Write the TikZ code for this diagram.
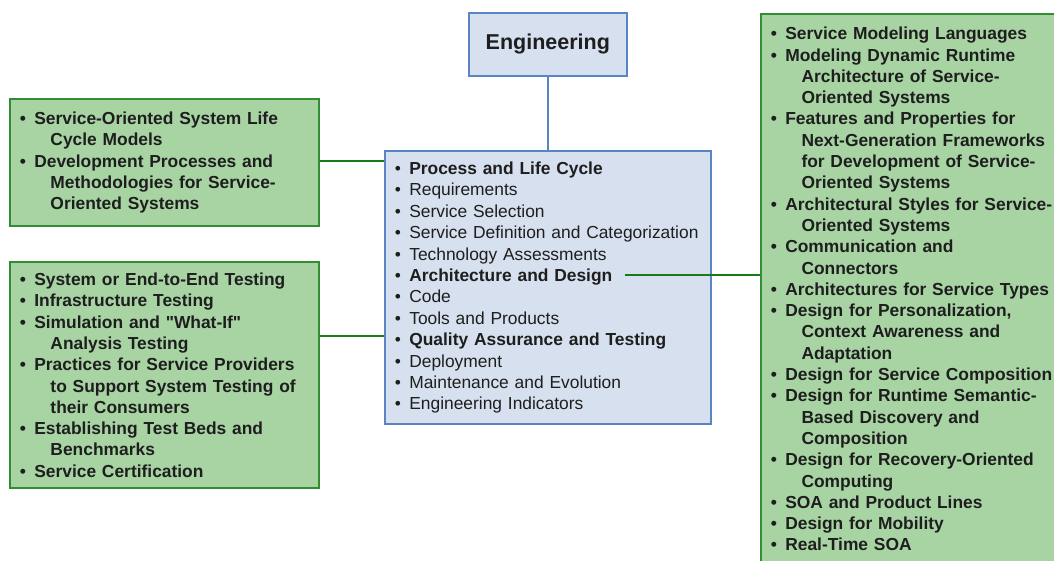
\documentclass[tikz,border=0pt]{standalone}
\usepackage{fontspec}
\setmainfont{Liberation Sans}[Ligatures=TeXOff]
\usetikzlibrary{positioning}
\definecolor{topicfill}{RGB}{214,224,238}
\definecolor{topicline}{RGB}{91,132,196}
\definecolor{areafill}{RGB}{168,212,164}
\definecolor{arealine}{RGB}{50,140,50}
\definecolor{linkgreen}{RGB}{24,122,24}
\definecolor{inktext}{RGB}{30,30,30}
\newcommand{\bul}{\par\noindent\makebox[14.5pt][l]{\textbullet}}
\newcommand{\wrapl}{\par\noindent\hspace*{30.7pt}}
\newcommand{\listpad}{\par\vspace{8pt}}
\begin{document}
\begin{tikzpicture}[x=1pt,y=-1pt,
    topic/.style={draw=topicline,fill=topicfill,line width=1.6pt,text=inktext},
    area/.style={draw=arealine,fill=areafill,line width=1.6pt,text=inktext,align=left,
        inner xsep=10pt,inner ysep=0pt,font=\bfseries\fontsize{17.4}{21.3}\selectfont},
    link/.style={linkgreen,line width=1.6pt}]
    \useasboundingbox (0,0) rectangle (1054,561);

    \node[topic,anchor=north west,minimum width=158,minimum height=63,
        font=\bfseries\fontsize{21.5}{24}\selectfont] (eng) at (468,12) {Engineering};

    \node[topic,anchor=north west,align=left,text width=306,inner xsep=10pt,inner ysep=0pt,
        minimum height=273,font=\fontsize{17.4}{21.4}\selectfont] (main) at (384,150) {%
        \bul\textbf{Process and Life Cycle}
        \bul Requirements
        \bul Service Selection
        \bul Service Definition and Categorization
        \bul Technology Assessments
        \bul\textbf{Architecture and Design}
        \bul Code
        \bul Tools and Products
        \bul\textbf{Quality Assurance and Testing}
        \bul Deployment
        \bul Maintenance and Evolution
        \bul Engineering Indicators\listpad};

    \node[area,anchor=north west,text width=289,minimum height=127] (life) at (9,98) {%
        \bul Service-Oriented System Life
        \wrapl Cycle Models
        \bul Development Processes and
        \wrapl Methodologies for Service-
        \wrapl Oriented Systems\listpad};

    \node[area,anchor=north west,text width=289,minimum height=226] (test) at (9,261) {%
        \bul System or End-to-End Testing
        \bul Infrastructure Testing
        \bul Simulation and "What-If"
        \wrapl Analysis Testing
        \bul Practices for Service Providers
        \wrapl to Support System Testing of
        \wrapl their Consumers
        \bul Establishing Test Beds and
        \wrapl Benchmarks
        \bul Service Certification\listpad};

    \node[area,anchor=north west,text width=284,minimum height=550] (design) at (760,13) {%
        \bul Service Modeling Languages
        \bul Modeling Dynamic Runtime
        \wrapl Architecture of Service-
        \wrapl Oriented Systems
        \bul Features and Properties for
        \wrapl Next-Generation Frameworks
        \wrapl for Development of Service-
        \wrapl Oriented Systems
        \bul Architectural Styles for Service-
        \wrapl Oriented Systems
        \bul Communication and
        \wrapl Connectors
        \bul Architectures for Service Types
        \bul Design for Personalization,
        \wrapl Context Awareness and
        \wrapl Adaptation
        \bul Design for Service Composition
        \bul Design for Runtime Semantic-
        \wrapl Based Discovery and
        \wrapl Composition
        \bul Design for Recovery-Oriented
        \wrapl Computing
        \bul SOA and Product Lines
        \bul Design for Mobility
        \bul Real-Time SOA\listpad};

    \coordinate (plrow) at (0,161);
    \coordinate (adrow) at (625,275);
    \coordinate (qarow) at (0,336);

    \draw[topicline,line width=1.6pt] (eng.south) -- (main.north);
    \draw[link] (life.east |- plrow) -- (main.west |- plrow);
    \draw[link] (test.east |- qarow) -- (main.west |- qarow);
    \draw[link] (adrow) -- (design.west |- adrow);
\end{tikzpicture}
\end{document}
